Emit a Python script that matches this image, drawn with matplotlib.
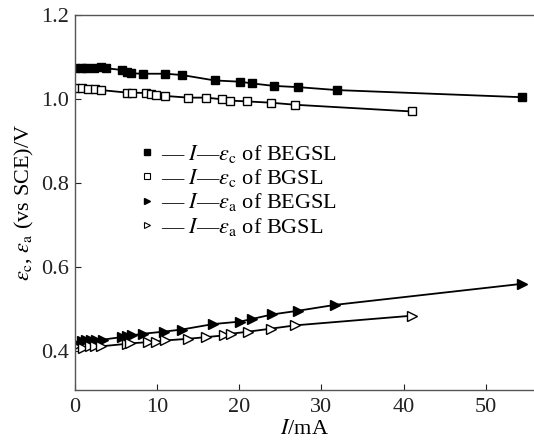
# I - potential curves of BEGSL / BGSL electrodes
import numpy as np
import matplotlib.pyplot as plt
from matplotlib.lines import Line2D

plt.rcParams['font.family'] = 'Liberation Serif'
plt.rcParams['mathtext.fontset'] = 'stix'

# filled squares: I - eps_c of BEGSL
i_c_begsl = [0, 0.8, 1.4, 2.3, 3.2, 3.8, 5.7, 6.3, 6.8, 8.3, 11.0, 13.0, 17.0, 20.1, 21.5, 24.2, 27.2, 31.9, 54.4]
e_c_begsl = [1.073, 1.073, 1.073, 1.074, 1.076, 1.073, 1.069, 1.065, 1.061, 1.060, 1.060, 1.057,
             1.044, 1.041, 1.037, 1.031, 1.028, 1.021, 1.004]

# open squares: I - eps_c of BGSL
i_c_bgsl = [0, 0.8, 1.6, 2.4, 3.2, 6.3, 6.9, 8.7, 9.3, 9.9, 11.0, 13.8, 16.0, 17.9, 18.9, 20.9, 23.8, 26.8, 41.0]
e_c_bgsl = [1.025, 1.025, 1.023, 1.023, 1.021, 1.015, 1.015, 1.014, 1.012, 1.010, 1.007, 1.003,
            1.003, 0.999, 0.996, 0.994, 0.991, 0.986, 0.970]

# filled triangles: I - eps_a of BEGSL
i_a_begsl = [0, 0.8, 1.4, 2.0, 2.6, 3.4, 5.7, 6.3, 6.9, 8.3, 10.8, 13.0, 16.8, 20.1, 21.5, 24.0, 27.2, 31.7, 54.4]
e_a_begsl = [0.417, 0.422, 0.424, 0.424, 0.424, 0.426, 0.432, 0.434, 0.436, 0.440, 0.445, 0.450,
             0.463, 0.469, 0.475, 0.486, 0.495, 0.509, 0.559]

# open triangles: I - eps_a of BGSL
i_a_bgsl = [0, 1.0, 1.8, 2.4, 3.2, 6.3, 6.7, 8.9, 9.9, 11.0, 13.8, 16.0, 18.1, 19.0, 21.1, 23.8, 26.8, 41.0]
e_a_bgsl = [0.410, 0.406, 0.410, 0.410, 0.410, 0.416, 0.417, 0.420, 0.421, 0.424, 0.428, 0.432,
            0.436, 0.440, 0.445, 0.452, 0.460, 0.483]

labels = [r"— $I$—$\varepsilon_{\rm c}$ of BEGSL",
          r"— $I$—$\varepsilon_{\rm c}$ of BGSL",
          r"— $I$—$\varepsilon_{\rm a}$ of BEGSL",
          r"— $I$—$\varepsilon_{\rm a}$ of BGSL"]

fig = plt.figure(figsize=(5.34, 4.47), dpi=100)
ax = fig.add_axes([0.1404, 0.1286, 0.8586, 0.8378])

lw = 1.3
ax.plot(i_c_begsl, e_c_begsl, '-', color='k', lw=lw, marker='s', ms=5.8, mfc='k', mec='k')
ax.plot(i_c_bgsl, e_c_bgsl, '-', color='k', lw=lw, marker='s', ms=5.4, mfc='white', mec='k', mew=1.0)
ax.plot(i_a_begsl, e_a_begsl, '-', color='k', lw=lw, marker='>', ms=6.5, mfc='k', mec='k')
ax.plot(i_a_bgsl, e_a_bgsl, '-', color='k', lw=lw, marker='>', ms=6.5, mfc='white', mec='k', mew=1.0)

ax.set_xlim(0, 55.8)
ax.set_ylim(0.307, 1.2)
ax.set_xticks([0, 10, 20, 30, 40, 50])
ax.set_yticks([0.4, 0.6, 0.8, 1.0, 1.2])
ax.set_yticklabels(['0.4', '0.6', '0.8', '1.0', '1.2'])
ax.tick_params(direction='in', length=4, width=0.8, labelsize=16, colors='#222222', pad=6)
ax.tick_params(axis='y', pad=4)
ax.spines['right'].set_visible(False)
for s in ['left', 'bottom', 'top']:
    ax.spines[s].set_color('#555555')
    ax.spines[s].set_linewidth(1.0)

ax.set_xlabel(r"$I$/mA", fontsize=16, labelpad=2)
ax.set_ylabel(r"$\varepsilon_{\rm c}$, $\varepsilon_{\rm a}$ (vs SCE)/V", fontsize=16, labelpad=4)

handles = [Line2D([], [], ls='none', marker='s', ms=4, mfc='k', mec='k'),
           Line2D([], [], ls='none', marker='s', ms=4, mfc='white', mec='k', mew=0.8),
           Line2D([], [], ls='none', marker='>', ms=4.5, mfc='k', mec='k'),
           Line2D([], [], ls='none', marker='>', ms=4.5, mfc='white', mec='k', mew=0.8)]
ax.legend(handles, labels, loc='upper left', bbox_to_anchor=(0.119, 0.688), frameon=False,
          fontsize=16, handlelength=0.6, handletextpad=0.3, labelspacing=0.1, borderpad=0)

fig.savefig('out.png', dpi=100)
